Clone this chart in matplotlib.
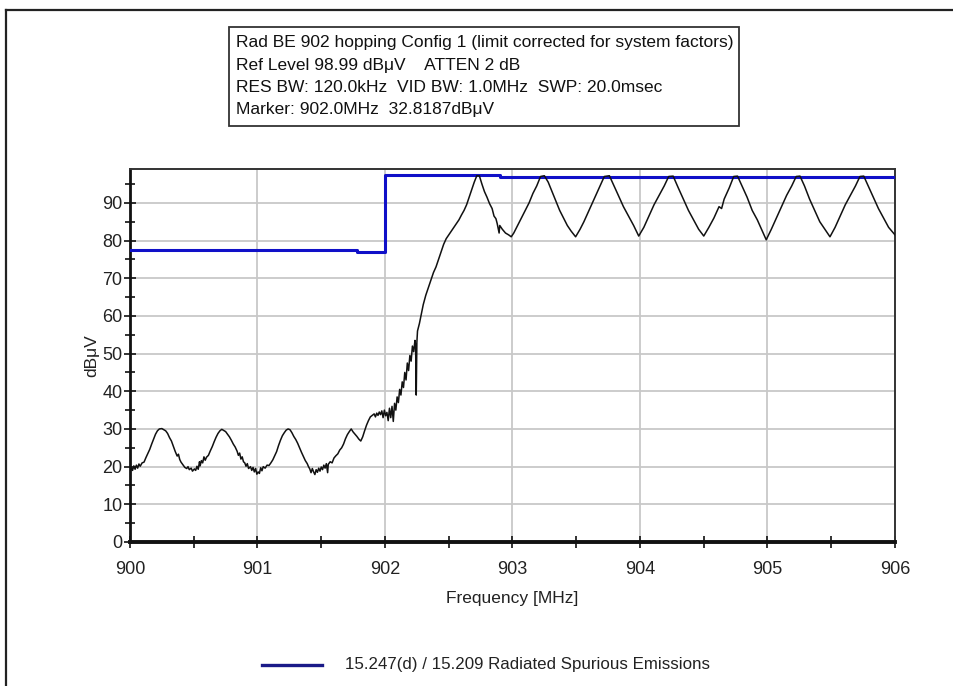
import numpy as np
import matplotlib
matplotlib.use("Agg")
import matplotlib.pyplot as plt
from matplotlib.patches import Rectangle
from matplotlib.lines import Line2D
from matplotlib.ticker import MultipleLocator

plt.rcParams['font.family'] = ['Liberation Sans', 'DejaVu Sans']

trace_freq = [
    900.000, 900.010, 900.020, 900.030, 900.040, 900.050, 900.060, 900.070, 900.080, 900.095,
    900.110, 900.125, 900.140, 900.155, 900.170, 900.185, 900.200, 900.215, 900.230, 900.250,
    900.265, 900.280, 900.295, 900.310, 900.325, 900.340, 900.355, 900.370, 900.380, 900.390,
    900.400, 900.415, 900.430, 900.445, 900.455, 900.465, 900.480, 900.490, 900.505, 900.515,
    900.525, 900.535, 900.545, 900.550, 900.560, 900.570, 900.580, 900.590, 900.600, 900.615,
    900.630, 900.645, 900.660, 900.675, 900.690, 900.705, 900.720, 900.735, 900.750, 900.765,
    900.780, 900.795, 900.810, 900.825, 900.840, 900.850, 900.860, 900.870, 900.880, 900.890,
    900.900, 900.910, 900.920, 900.930, 900.945, 900.955, 900.965, 900.975, 900.985, 900.995,
    901.005, 901.015, 901.025, 901.035, 901.045, 901.060, 901.075, 901.090, 901.105, 901.120,
    901.135, 901.150, 901.165, 901.180, 901.195, 901.210, 901.225, 901.240, 901.255, 901.270,
    901.285, 901.300, 901.315, 901.330, 901.345, 901.360, 901.375, 901.390, 901.400, 901.410,
    901.420, 901.430, 901.440, 901.450, 901.460, 901.470, 901.480, 901.490, 901.500, 901.510,
    901.520, 901.530, 901.540, 901.550, 901.555, 901.570, 901.585, 901.600, 901.615, 901.630,
    901.645, 901.660, 901.675, 901.690, 901.705, 901.720, 901.735, 901.750, 901.765, 901.780,
    901.795, 901.810, 901.825, 901.840, 901.855, 901.870, 901.885, 901.900, 901.915, 901.925,
    901.935, 901.945, 901.955, 901.965, 901.975, 901.985, 901.995, 902.005, 902.015, 902.025,
    902.035, 902.045, 902.055, 902.065, 902.075, 902.085, 902.095, 902.105, 902.115, 902.125,
    902.135, 902.145, 902.155, 902.165, 902.175, 902.185, 902.195, 902.205, 902.215, 902.225,
    902.235, 902.240, 902.245, 902.250, 902.255, 902.270, 902.285, 902.300, 902.320, 902.340,
    902.360, 902.380, 902.400, 902.420, 902.440, 902.460, 902.480, 902.500, 902.520, 902.540,
    902.560, 902.580, 902.600, 902.620, 902.640, 902.660, 902.680, 902.700, 902.720, 902.740,
    902.760, 902.780, 902.800, 902.820, 902.840, 902.855, 902.870, 902.880, 902.895, 902.900,
    902.920, 902.945, 902.970, 902.990, 903.010, 903.040, 903.070, 903.100, 903.130, 903.160,
    903.190, 903.220, 903.250, 903.280, 903.310, 903.340, 903.370, 903.400, 903.430, 903.460,
    903.495, 903.530, 903.560, 903.600, 903.640, 903.680, 903.720, 903.760, 903.790, 903.830,
    903.870, 903.910, 903.950, 903.990, 904.030, 904.070, 904.110, 904.150, 904.190, 904.225,
    904.260, 904.300, 904.340, 904.380, 904.420, 904.460, 904.500, 904.540, 904.580, 904.620,
    904.640, 904.660, 904.700, 904.735, 904.765, 904.800, 904.840, 904.880, 904.920, 904.960,
    904.990, 905.030, 905.070, 905.110, 905.150, 905.190, 905.225, 905.255, 905.290, 905.330,
    905.370, 905.410, 905.450, 905.490, 905.530, 905.570, 905.610, 905.650, 905.690, 905.725,
    905.755, 905.790, 905.830, 905.870, 905.910, 905.950, 906.000,
]
trace_level = [
    18.6, 19.8, 19.0, 20.2, 19.3, 20.4, 19.6, 20.7, 20.1, 21.0,
    21.2, 22.4, 23.5, 24.6, 26.0, 27.3, 28.6, 29.5, 30.0, 30.1,
    29.8, 29.5, 28.8, 27.7, 26.8, 25.4, 24.0, 22.8, 23.3, 21.9,
    21.2, 20.5, 19.8, 19.5, 20.0, 19.2, 19.6, 18.8, 19.4, 19.0,
    20.1, 19.3, 21.3, 20.2, 21.6, 21.0, 22.6, 21.7, 22.5, 23.0,
    24.2, 25.3, 26.6, 27.8, 28.8, 29.5, 29.9, 29.6, 29.3, 28.6,
    27.9, 27.0, 26.0, 25.2, 24.1, 23.0, 23.6, 22.0, 22.6, 21.3,
    21.0, 20.1, 20.8, 19.5, 20.0, 19.0, 19.8, 18.6, 19.5, 18.0,
    18.6, 18.2, 19.7, 18.9, 20.0, 19.6, 20.4, 20.3, 21.0, 21.8,
    22.9, 24.0, 25.6, 27.0, 28.2, 29.0, 29.7, 30.0, 29.8, 29.0,
    28.0, 27.2, 26.2, 25.0, 23.8, 22.7, 21.6, 20.8, 20.0, 19.4,
    18.4, 19.5, 18.6, 17.9, 19.2, 18.5, 19.6, 18.8, 19.9, 19.2,
    20.4, 19.6, 20.8, 18.4, 20.6, 21.3, 21.0, 22.3, 22.9, 23.4,
    24.4, 25.0, 26.0, 27.4, 28.5, 29.3, 30.0, 29.2, 28.6, 28.0,
    27.3, 26.8, 27.9, 29.5, 31.0, 32.2, 33.2, 33.6, 34.0, 33.2,
    34.2, 33.6, 34.5, 33.8, 34.8, 33.0, 35.0, 33.5, 34.4, 32.2,
    35.5, 33.0, 36.0, 32.0, 36.8, 35.0, 38.5, 37.0, 40.5, 39.0,
    42.5, 41.0, 45.0, 43.0, 47.5, 45.5, 49.5, 48.0, 52.0, 50.5,
    53.5, 52.0, 39.0, 53.0, 56.0, 58.0, 60.5, 63.0, 65.5, 67.5,
    69.5, 71.5, 73.0, 75.0, 77.0, 79.0, 80.5, 81.5, 82.5, 83.5,
    84.5, 85.5, 86.8, 88.0, 89.5, 91.5, 93.5, 95.5, 97.2, 97.2,
    95.0, 93.0, 91.5, 89.8, 88.5, 86.5, 85.8, 84.5, 82.0, 84.0,
    83.0, 82.0, 81.5, 81.0, 82.0, 84.0, 86.0, 88.0, 90.0, 92.5,
    94.5, 97.0, 97.2, 95.5, 93.0, 90.5, 88.0, 86.0, 84.0, 82.5,
    81.0, 83.0, 85.0, 88.0, 91.0, 94.0, 97.0, 97.2, 95.0, 92.0,
    89.0, 86.5, 84.0, 81.2, 83.5, 86.5, 89.5, 92.0, 94.5, 97.0,
    97.1, 94.0, 91.0, 88.0, 85.5, 83.0, 81.2, 83.5, 86.0, 89.0,
    88.5, 91.0, 94.0, 97.0, 97.1, 94.5, 91.5, 88.0, 85.5, 82.5,
    80.2, 83.0, 86.0, 89.0, 92.0, 94.5, 97.0, 97.1, 94.5, 91.0,
    88.0, 85.0, 83.0, 81.0, 83.5, 86.5, 89.5, 92.0, 94.5, 97.0,
    97.1, 94.5, 91.5, 88.5, 86.0, 83.5, 81.5,
]

# limit line (steps)
limit_freq = [900.0, 901.78, 902.0, 902.9, 906.0]
limit_level = [77.4, 77.0, 97.3, 96.9, 96.9]

header_lines = [
    "Rad BE 902 hopping Config 1 (limit corrected for system factors)",
    "Ref Level 98.99 dB\u03bcV    ATTEN 2 dB",
    "RES BW: 120.0kHz  VID BW: 1.0MHz  SWP: 20.0msec",
    "Marker: 902.0MHz  32.8187dB\u03bcV",
]
legend_label = "15.247(d) / 15.209 Radiated Spurious Emissions"

W, H = 954, 686
fig = plt.figure(figsize=(W / 100, H / 100), dpi=100)

def fx(px):
    return px / W

def fy(py):
    return 1 - py / H

# outer frame (top + left only)
fig.add_artist(Line2D([fx(6), 1.0], [fy(10), fy(10)], color='#222222', lw=1.6))
fig.add_artist(Line2D([fx(6), fx(6)], [fy(10), 0.0], color='#222222', lw=1.6))

# header box
fig.add_artist(Rectangle((fx(229), fy(126)), fx(739) - fx(229), fy(27) - fy(126),
                         fill=False, edgecolor='#333333', lw=1.3))
for i, line in enumerate(header_lines):
    fig.text(fx(236), fy(43 + i * 22.3), line, fontsize=12.5, va='center', ha='left', color='#111111')

ax = fig.add_axes([fx(130), fy(542), fx(895) - fx(130), fy(169) - fy(542)])
ax.plot(limit_freq, limit_level, drawstyle='steps-post', color='#1010c8', lw=2.2, zorder=3)
ax.plot(trace_freq, trace_level, color='#111111', lw=1.1, zorder=4)

ax.set_xlim(900, 906)
ax.set_ylim(0, 98.99)
ax.xaxis.set_major_locator(MultipleLocator(1))
ax.xaxis.set_minor_locator(MultipleLocator(0.5))
ax.yaxis.set_major_locator(MultipleLocator(10))
ax.yaxis.set_minor_locator(MultipleLocator(5))
ax.grid(True, which='major', color='#c8c8c8', lw=1.3)
ax.set_axisbelow(True)

ax.tick_params(axis='both', which='both', direction='inout', color='#111111', width=1.2)
ax.tick_params(axis='y', which='major', length=9, labelsize=13, pad=1)
ax.tick_params(axis='y', which='minor', length=7)
ax.tick_params(axis='x', which='major', length=8, labelsize=13, pad=10)
ax.tick_params(axis='x', which='minor', length=8)
for lbl in ax.get_xticklabels() + ax.get_yticklabels():
    lbl.set_color('#222222')

for s in ['left', 'bottom']:
    ax.spines[s].set_linewidth(2.0)
    ax.spines[s].set_color('#111111')
ax.spines['bottom'].set_linewidth(2.8)
for s in ['top', 'right']:
    ax.spines[s].set_linewidth(1.4)
    ax.spines[s].set_color('#333333')

ax.set_xlabel('Frequency [MHz]', fontsize=12.5, color='#222222', labelpad=9)
ax.set_ylabel('dB\u03bcV', fontsize=12.5, color='#222222', labelpad=2)

# legend drawn at the foot of the frame
fig.add_artist(Line2D([fx(262), fx(322)], [fy(665), fy(665)], color='#1a1a88', lw=2.4))
fig.text(fx(345), fy(665), legend_label, fontsize=12.2, va='center', ha='left', color='#222222')

fig.savefig('out.png', dpi=100)
